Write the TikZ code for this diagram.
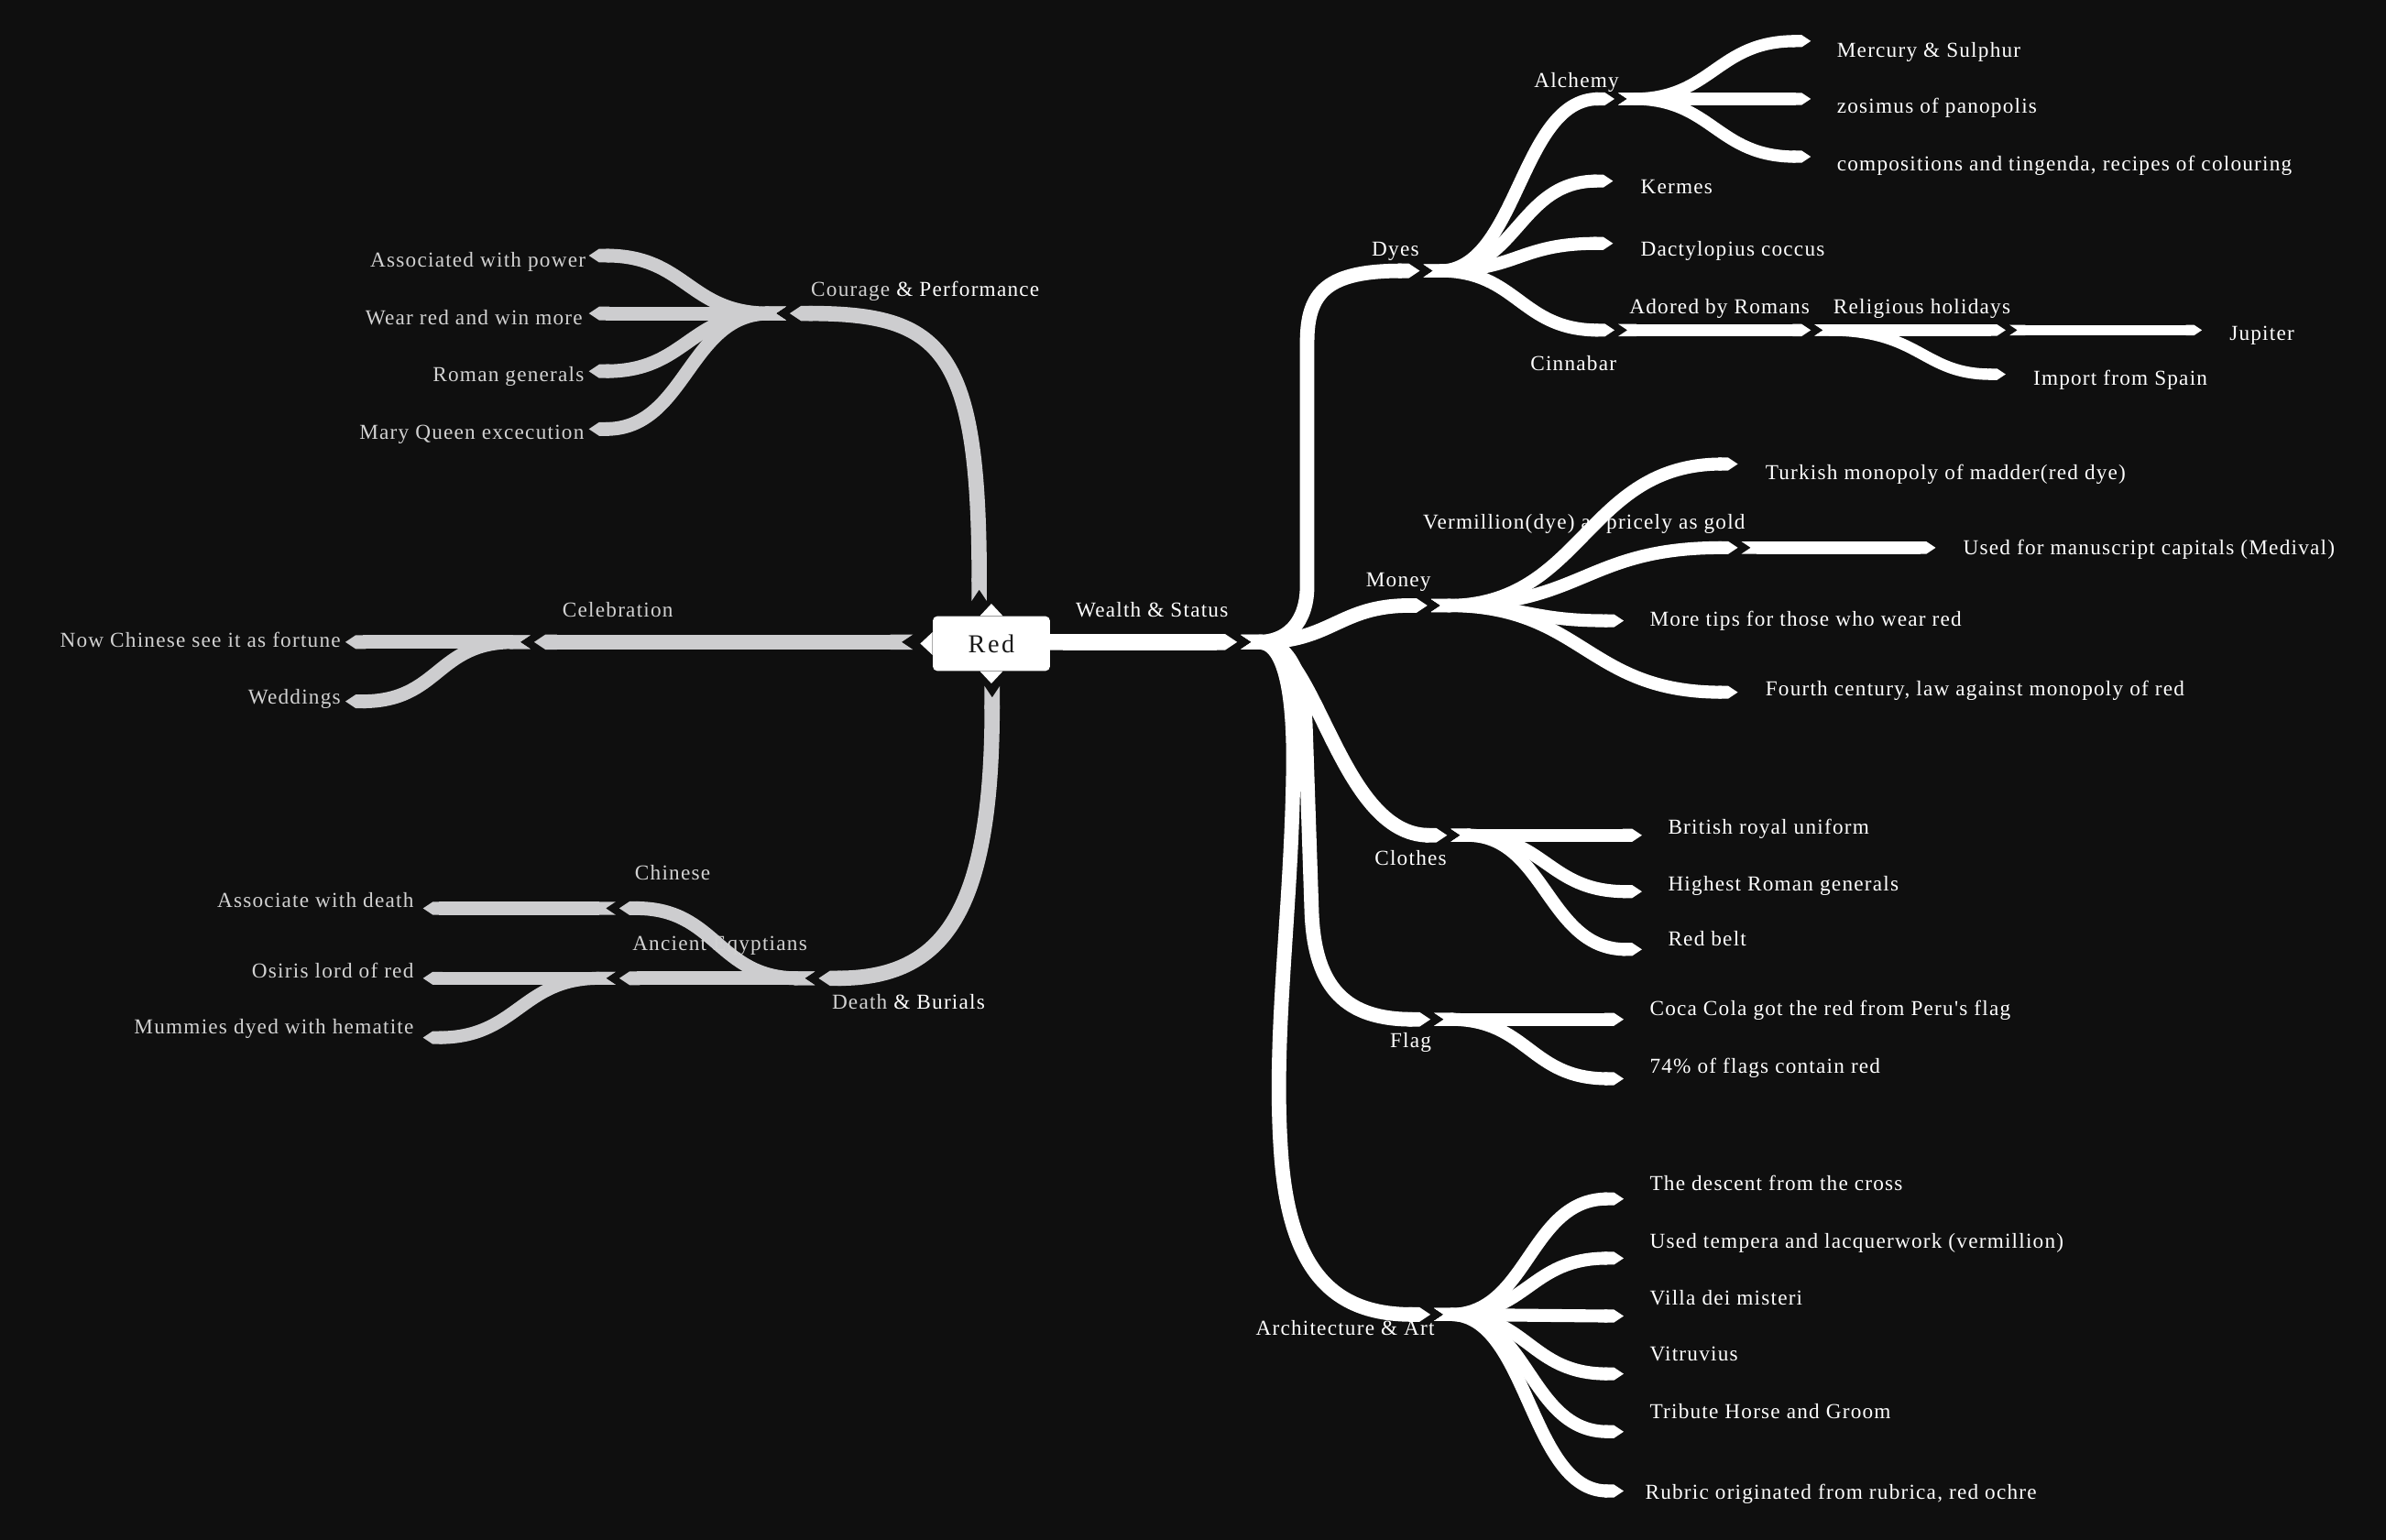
\documentclass[tikz,border=0pt]{standalone}
\usepackage{fontspec}
\usetikzlibrary{arrows.meta}
\newfontfamily\labfont[LetterSpace=5.2]{Liberation Serif}
\newfontfamily\redfont[LetterSpace=9]{Liberation Serif}
\definecolor{bgc}{HTML}{0F0F0F}
\definecolor{grl}{HTML}{CDCDCF}
\definecolor{grt}{HTML}{D2D2D2}
\newcommand{\mygap}{2.5pt}
\tikzset{
  tips/.style={{Triangle Cap[reversed,length=0pt .75]}-{Triangle Cap[length=0pt .75]}},
  wb/.style={draw=white, line width=#1pt, tips},
  gb/.style={draw=grl, line width=#1pt, tips},
  lab/.style={inner sep=0pt, font=\labfont\fontsize{14}{16}\selectfont, text height=12pt, text depth=1pt},
  rl/.style={lab, text=white, anchor=west},
  rc/.style={lab, text=white, anchor=center},
  ll/.style={lab, text=grt, anchor=east},
  lc/.style={lab, text=grt, anchor=center},
  redbox/.style={fill=white, rounded corners=3pt, minimum width=77pt, minimum height=36pt, inner sep=0pt,
    text=black!90, font=\redfont\fontsize{17}{19}\selectfont}
}
\begin{document}
\begin{tikzpicture}[x=1pt,y=-1pt]
\fill[bgc] (0,0) rectangle (1568,1012);
\useasboundingbox (0,0) rectangle (1568,1012);

% ---------- branch end points ----------
\coordinate (wealth) at (813,422);
\coordinate (dyes) at (933,178);
\coordinate (money) at (938,398);
\coordinate (clothes) at (951,549);
\coordinate (flag) at (940,670);
\coordinate (arch) at (940,864);
\coordinate (alchemy) at (1061,65);
\coordinate (kermes) at (1060,119);
\coordinate (dact) at (1060,160);
\coordinate (cinnabar) at (1061,217);
\coordinate (merc) at (1190,27);
\coordinate (zos) at (1190,65);
\coordinate (comp) at (1190,103);
\coordinate (adored) at (1190,217);
\coordinate (relig) at (1318,217);
\coordinate (jup) at (1447,217);
\coordinate (import) at (1318,246);
\coordinate (turk) at (1142,305);
\coordinate (verm) at (1142,360);
\coordinate (used) at (1272,360);
\coordinate (more) at (1067,408);
\coordinate (fourth) at (1142,455);
\coordinate (brit) at (1079,549);
\coordinate (high) at (1079,586);
\coordinate (belt) at (1079,624);
\coordinate (coca) at (1067,670);
\coordinate (pct) at (1067,709);
\coordinate (desc) at (1067,788);
\coordinate (temp) at (1067,827);
\coordinate (villa) at (1067,865);
\coordinate (vit) at (1067,903);
\coordinate (trib) at (1067,941);
\coordinate (rub) at (1067,980);
% left
\coordinate (courage) at (519,206);
\coordinate (assoc) at (387,168);
\coordinate (wear) at (387,206);
\coordinate (roman) at (387,244);
\coordinate (mary) at (387,282);
\coordinate (celeb) at (351,422);
\coordinate (now) at (227,422);
\coordinate (wed) at (227,461);
\coordinate (death) at (538,643);
\coordinate (chin) at (407,597);
\coordinate (egy) at (407,643);
\coordinate (assd) at (278,597);
\coordinate (osi) at (278,643);
\coordinate (mum) at (278,682);
\coordinate (rtop) at (643.5,395);
\coordinate (rleft) at (600,422);
\coordinate (rbot) at (652,451);
\coordinate (rright) at (688,422);

% ---------- right side (white) ----------
\draw[wb=10.5, {Butt Cap}-{Triangle Cap[length=0pt .75]}] (rright) -- (wealth);
\draw[wb=9.5] ([xshift=\mygap]wealth) .. controls (845,422) and (859,410) .. (859,385) -- (859,225) .. controls (859,192) and (872,178) .. (dyes);
\draw[wb=9.5] ([xshift=\mygap]wealth) .. controls (875,422) and (880,398) .. (money);
\draw[wb=9.5] ([xshift=\mygap]wealth) .. controls (865,422) and (880,549) .. (clothes);
\draw[wb=9.5] ([xshift=\mygap]wealth) .. controls (848,422) and (857,445) .. (858,480) -- (862,600) .. controls (864,650) and (885,670) .. (flag);
\draw[wb=9.5] ([xshift=\mygap]wealth) .. controls (843,422) and (850,450) .. (850,500) .. controls (849,600) and (836,680) .. (842,760) .. controls (848,840) and (880,864) .. (arch);

\draw[wb=8.5] ([xshift=\mygap]dyes) .. controls +(62,0) and +(-62,0) .. (alchemy);
\draw[wb=8.5] ([xshift=\mygap]dyes) .. controls +(62,0) and +(-62,0) .. (kermes);
\draw[wb=8.5] ([xshift=\mygap]dyes) .. controls +(62,0) and +(-62,0) .. (dact);
\draw[wb=8.5] ([xshift=\mygap]dyes) .. controls +(62,0) and +(-62,0) .. (cinnabar);

\draw[wb=8] ([xshift=\mygap]alchemy) .. controls +(62,0) and +(-62,0) .. (merc);
\draw[wb=8] ([xshift=\mygap]alchemy) -- (zos);
\draw[wb=8] ([xshift=\mygap]alchemy) .. controls +(62,0) and +(-62,0) .. (comp);

\draw[wb=8] ([xshift=\mygap]cinnabar) -- (adored);
\draw[wb=7.5] ([xshift=\mygap]adored) -- (relig);
\draw[wb=7.5] ([xshift=\mygap]adored) .. controls +(70,0) and +(-55,0) .. (import);
\draw[wb=7] ([xshift=\mygap]relig) -- (jup);

\draw[wb=8.5] ([xshift=\mygap]money) .. controls +(100,0) and +(-100,0) .. (turk);
\draw[wb=8.5] ([xshift=\mygap]money) .. controls +(100,0) and +(-100,0) .. (verm);
\draw[wb=8.5] ([xshift=\mygap]money) .. controls +(63,0) and +(-63,0) .. (more);
\draw[wb=8.5] ([xshift=\mygap]money) .. controls +(100,0) and +(-100,0) .. (fourth);
\draw[wb=8] ([xshift=\mygap]verm) -- (used);

\draw[wb=8.5] ([xshift=\mygap]clothes) -- (brit);
\draw[wb=8.5] ([xshift=\mygap]clothes) .. controls +(62,0) and +(-62,0) .. (high);
\draw[wb=8.5] ([xshift=\mygap]clothes) .. controls +(62,0) and +(-62,0) .. (belt);

\draw[wb=8.5] ([xshift=\mygap]flag) -- (coca);
\draw[wb=8.5] ([xshift=\mygap]flag) .. controls +(62,0) and +(-62,0) .. (pct);

\foreach \t in {desc,temp,villa,vit,trib,rub}{
  \draw[wb=8.5] ([xshift=\mygap]arch) .. controls +(62,0) and +(-62,0) .. (\t);
}

% ---------- left side (gray) ----------
\draw[gb=10] (rtop) .. controls (643.5,230) and (620,206) .. (courage);
\draw[gb=9] ([xshift=-\mygap]courage) .. controls +(-64,0) and +(64,0) .. (assoc);
\draw[gb=9] ([xshift=-\mygap]courage) -- (wear);
\draw[gb=9] ([xshift=-\mygap]courage) .. controls +(-64,0) and +(64,0) .. (roman);
\draw[gb=9] ([xshift=-\mygap]courage) .. controls +(-64,0) and +(64,0) .. (mary);

\draw[gb=10] (rleft) -- (celeb);
\draw[gb=9] ([xshift=-\mygap]celeb) -- (now);
\draw[gb=9] ([xshift=-\mygap]celeb) .. controls +(-62,0) and +(62,0) .. (wed);

\draw[gb=10] (rbot) .. controls (652,600) and (620,643) .. (death);
\draw[gb=9] ([xshift=-\mygap]death) .. controls +(-64,0) and +(64,0) .. (chin);
\draw[gb=9] ([xshift=-\mygap]death) -- (egy);
\draw[gb=8.5] ([xshift=-\mygap]chin) -- (assd);
\draw[gb=8.5] ([xshift=-\mygap]egy) -- (osi);
\draw[gb=8.5] ([xshift=-\mygap]egy) .. controls +(-62,0) and +(62,0) .. (mum);

% ---------- central topic ----------
\node[redbox] (red) at (651.5,423) {Red};
\fill[white] ([xshift=-7.5pt]red.north) -- ([yshift=8pt]red.north) -- ([xshift=7.5pt]red.north) -- cycle;
\fill[white] ([xshift=-7.5pt]red.south) -- ([yshift=-8pt]red.south) -- ([xshift=7.5pt]red.south) -- cycle;
\fill[white] ([yshift=-7.5pt]red.west) -- ([xshift=-8pt]red.west) -- ([yshift=7.5pt]red.west) -- cycle;

% ---------- labels right ----------
\node[rc] (wealthL) at (757,400) {Wealth \& Status};
\node[rc] (dyesL) at (917,163) {Dyes};
\node[rc] (moneyL) at (919,380) {Money};
\node[rc] (clothesL) at (927,563) {Clothes};
\node[rc] (flagL) at (927,683) {Flag};
\node[rc] (archL) at (884,872) {Architecture \& Art};
\node[rc] (alchemyL) at (1036,52) {Alchemy};
\node[rl] (kermesL) at (1078,122) {Kermes};
\node[rl] (dactL) at (1078,163) {Dactylopius coccus};
\node[rc] (cinnL) at (1034,238) {Cinnabar};
\node[rl] (mercL) at (1207,32) {Mercury \& Sulphur};
\node[rl] (zosL) at (1207,69) {zosimus of panopolis};
\node[rl] (compL) at (1207,107) {compositions and tingenda, recipes of colouring};
\node[rc] (adoredL) at (1130,201) {Adored by Romans};
\node[rc] (religL) at (1263,201) {Religious holidays};
\node[rl] (jupL) at (1465,218) {Jupiter};
\node[rl] (importL) at (1336,248) {Import from Spain};
\node[rl] (turkL) at (1160,310) {Turkish monopoly of madder(red dye)};
\node[rc] (vermL) at (1041,342) {Vermillion(dye) as pricely as gold};
\node[rl] (usedL) at (1290,359) {Used for manuscript capitals (Medival)};
\node[rl] (moreL) at (1084,406) {More tips for those who wear red};
\node[rl] (fourthL) at (1160,452) {Fourth century, law against monopoly of red};
\node[rl] (britL) at (1096,543) {British royal uniform};
\node[rl] (highL) at (1096,580) {Highest Roman generals};
\node[rl] (beltL) at (1096,616) {Red belt};
\node[rl] (cocaL) at (1084,662) {Coca Cola got the red from Peru's flag};
\node[rl] (pctL) at (1084,700) {74\% of flags contain red};
\node[rl] (descL) at (1084,777) {The descent from the cross};
\node[rl] (tempL) at (1084,815) {Used tempera and lacquerwork (vermillion)};
\node[rl] (villaL) at (1084,852) {Villa dei misteri};
\node[rl] (vitL) at (1084,889) {Vitruvius};
\node[rl] (tribL) at (1084,927) {Tribute Horse and Groom};
\node[rl] (rubL) at (1081,980) {Rubric originated from rubrica, red ochre};

% ---------- labels left ----------
\node[lc] (courL) at (608,189) {Courage \textcolor{white}{\& Performance}};
\node[ll] (assocL) at (385,170) {Associated with power};
\node[ll] (wearL) at (383,208) {Wear red and win more};
\node[ll] (romanL) at (384,245) {Roman generals};
\node[ll] (maryL) at (384,283) {Mary Queen excecution};
\node[lc] (celebL) at (406,400) {Celebration};
\node[ll] (nowL) at (224,420) {Now Chinese see it as fortune};
\node[ll] (wedL) at (224,457) {Weddings};
\node[lc] (deathL) at (597,658) {Death \textcolor{white}{\& Burials}};
\node[lc] (chinL) at (442,573) {Chinese};
\node[lc] (egyL) at (473,619) {Ancient Eqyptians};
\node[ll] (assdL) at (272,591) {Associate with death};
\node[ll] (osiL) at (272,637) {Osiris lord of red};
\node[ll] (mumL) at (272,674) {Mummies dyed with hematite};
\end{tikzpicture}
\end{document}
